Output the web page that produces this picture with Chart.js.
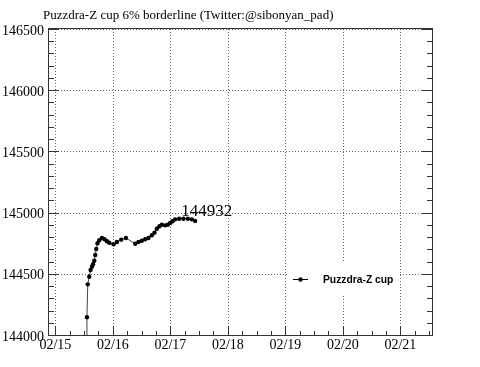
<!DOCTYPE html>
<html>
<head>
<meta charset="utf-8">
<title>Puzzdra-Z cup 6% borderline</title>
<script src="https://cdn.jsdelivr.net/npm/chart.js@4.4.1/dist/chart.umd.min.js"></script>
<style>
    html, body { margin: 0; padding: 0; background: #fff; }
    #chart { display: block; }
</style>
</head>
<body>
<canvas id="chart" width="480" height="367"></canvas>
<script>
// Chart text
const chartTitle = 'Puzzdra-Z cup 6% borderline (Twitter:@sibonyan_pad)';
const seriesName = 'Puzzdra-Z cup';

// Days since 02/15 00:00
const dayOffsets = [
    0.545, 0.550, 0.564, 0.590, 0.613, 0.637, 0.655, 0.677, 0.694, 0.712,
    0.734, 0.764, 0.811, 0.856, 0.898, 0.938, 1.012, 1.071, 1.146, 1.227,
    1.389, 1.446, 1.505, 1.563, 1.620, 1.679, 1.724, 1.766, 1.811, 1.852,
    1.910, 1.957, 1.997, 2.036, 2.083, 2.153, 2.227, 2.304, 2.373, 2.431
];

// Borderline score at each time
const borderValues = [
    143700, 144145, 144414, 144476, 144531, 144558, 144578, 144607, 144654, 144703,
    144749, 144774, 144792, 144782, 144766, 144754, 144741, 144760, 144779, 144792,
    144746, 144760, 144770, 144782, 144792, 144815, 144836, 144868, 144888, 144901,
    144896, 144901, 144915, 144929, 144945, 144950, 144950, 144950, 144945, 144932
];

// Axis ticks
const dayTicks = [0, 1, 2, 3, 4, 5, 6];
const dayLabels = ['02/15', '02/16', '02/17', '02/18', '02/19', '02/20', '02/21'];
const scoreTicks = [144000, 144500, 145000, 145500, 146000, 146500];

const serif = '"Liberation Serif", "Times New Roman", serif';

// ROOT style: dotted grid under the data, frame/ticks/legend/labels on top
const rootFrame = {
    id: 'rootFrame',
    beforeDatasetsDraw(chart) {
        const ctx = chart.ctx;
        const a = chart.chartArea;
        const x = chart.scales.x;
        const y = chart.scales.y;
        ctx.save();
        ctx.strokeStyle = '#666';
        ctx.lineWidth = 1;
        ctx.setLineDash([1, 2]);
        ctx.beginPath();
        x.ticks.forEach(t => {
            const px = Math.round(x.getPixelForValue(t.value)) + 0.5;
            ctx.moveTo(px, a.top);
            ctx.lineTo(px, a.bottom);
        });
        y.ticks.forEach(t => {
            const py = Math.round(y.getPixelForValue(t.value)) + 0.5;
            ctx.moveTo(a.left, py);
            ctx.lineTo(a.right, py);
        });
        ctx.stroke();
        ctx.restore();
    },
    afterDraw(chart) {
        const ctx = chart.ctx;
        const a = chart.chartArea;
        const x = chart.scales.x;
        const y = chart.scales.y;
        ctx.save();

        ctx.strokeStyle = '#333';
        ctx.lineWidth = 1;
        ctx.strokeRect(a.left - 0.5, a.top - 0.5, a.right - a.left + 1, a.bottom - a.top + 1);

        // x ticks: quarter days, longer at each day
        ctx.beginPath();
        const kStart = Math.ceil(x.min * 4);
        const kEnd = Math.floor(x.max * 4);
        for (let k = kStart; k <= kEnd; k++) {
            const px = Math.round(x.getPixelForValue(k / 4)) + 0.5;
            const len = k % 4 === 0 ? 9 : 4;
            ctx.moveTo(px, a.bottom);
            ctx.lineTo(px, a.bottom - len);
        }
        // y ticks every 100, both sides
        for (let v = y.min; v <= y.max; v += 100) {
            const py = Math.round(y.getPixelForValue(v)) + 0.5;
            const len = v % 500 === 0 ? 10 : 5;
            ctx.moveTo(a.left, py);
            ctx.lineTo(a.left + len, py);
            ctx.moveTo(a.right, py);
            ctx.lineTo(a.right - len, py);
        }
        ctx.stroke();

        // title
        ctx.fillStyle = '#000';
        ctx.font = '13px ' + serif;
        ctx.textBaseline = 'alphabetic';
        ctx.textAlign = 'left';
        ctx.fillText(chartTitle, 43, 19);

        // latest value next to last point
        const pts = chart.getDatasetMeta(0).data;
        const last = pts[pts.length - 1];
        ctx.font = '17px ' + serif;
        ctx.fillText(String(borderValues[borderValues.length - 1]), last.x - 14, last.y - 5);

        // legend
        const lx = a.right - 144;
        const ly = a.bottom - 72;
        ctx.fillStyle = '#fff';
        ctx.fillRect(lx, ly, 110, 31);
        ctx.strokeStyle = '#000';
        ctx.beginPath();
        ctx.moveTo(lx + 5, ly + 16.5);
        ctx.lineTo(lx + 20, ly + 16.5);
        ctx.stroke();
        ctx.fillStyle = '#000';
        ctx.beginPath();
        ctx.arc(lx + 12.5, ly + 16.5, 2.2, 0, Math.PI * 2);
        ctx.fill();
        ctx.font = 'bold 10.3px "Liberation Sans", Arial, sans-serif';
        ctx.fillText(seriesName, lx + 35, ly + 20);

        ctx.restore();
    }
};

const points = dayOffsets.map((d, i) => ({ x: d, y: borderValues[i] }));

new Chart(document.getElementById('chart'), {
    type: 'line',
    data: {
        datasets: [{
            label: seriesName,
            data: points,
            borderColor: '#444',
            borderWidth: 1,
            pointBackgroundColor: '#000',
            pointBorderColor: '#000',
            pointRadius: 2.2,
            pointBorderWidth: 0,
            tension: 0,
            fill: false
        }]
    },
    options: {
        responsive: false,
        animation: false,
        devicePixelRatio: 1,
        layout: { padding: { top: 29, right: 48, left: 0, bottom: 0 } },
        plugins: {
            legend: { display: false },
            tooltip: { enabled: false },
            title: { display: false }
        },
        scales: {
            x: {
                type: 'linear',
                min: -0.11,
                max: 6.55,
                afterBuildTicks: scale => { scale.ticks = dayTicks.map(v => ({ value: v })); },
                afterFit: scale => { scale.height = 32; },
                grid: { display: false, drawTicks: false },
                border: { display: false },
                ticks: {
                    autoSkip: false,
                    maxRotation: 0,
                    padding: 2,
                    color: '#000',
                    font: { family: serif, size: 14 },
                    callback: v => dayLabels[dayTicks.indexOf(v)]
                }
            },
            y: {
                min: 144000,
                max: 146500,
                afterBuildTicks: scale => { scale.ticks = scoreTicks.map(v => ({ value: v })); },
                afterFit: scale => { scale.width = 49; },
                grid: { display: false, drawTicks: false },
                border: { display: false },
                ticks: {
                    autoSkip: false,
                    padding: 5,
                    labelOffset: 2,
                    color: '#000',
                    font: { family: serif, size: 14 },
                    callback: v => String(v)
                }
            }
        }
    },
    plugins: [rootFrame]
});
</script>
</body>
</html>
